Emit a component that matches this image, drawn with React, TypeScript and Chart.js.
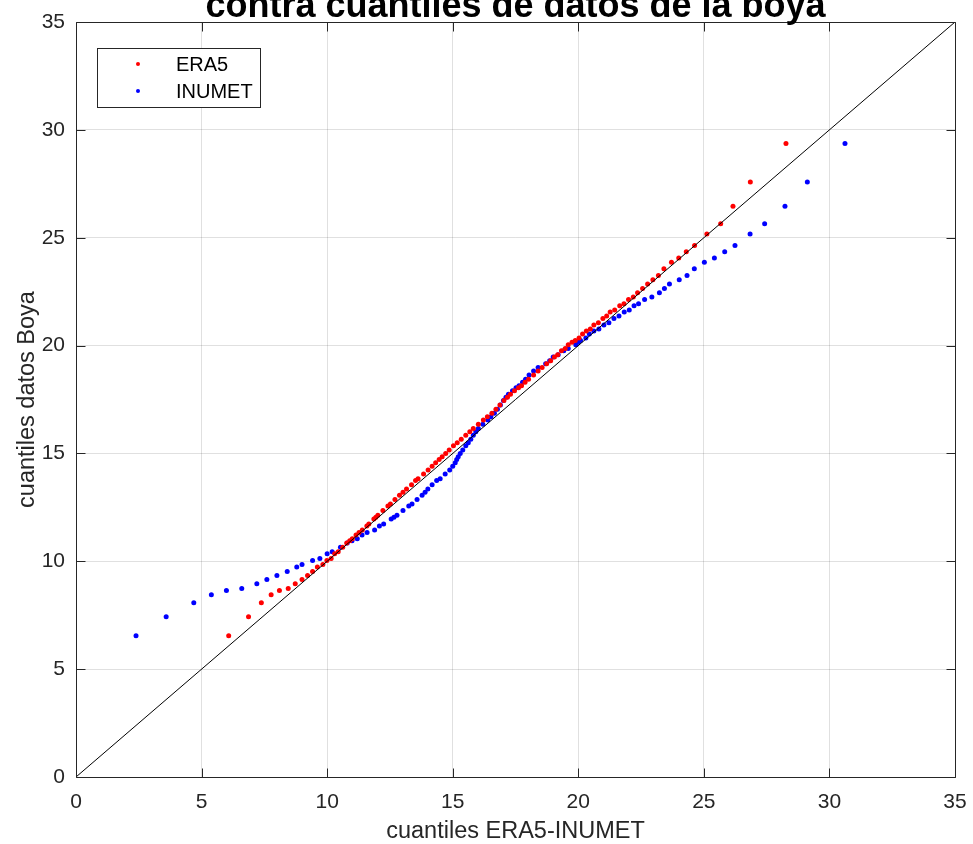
import React, { useEffect, useRef } from "react";
import { Chart, registerables } from "chart.js";

Chart.register(...registerables);

// Buoy quantiles (shared y values)
const boyaQuantiles: number[] = [
  6.55, 7.43, 8.08, 8.45, 8.65, 8.74, 8.96, 9.15, 9.34, 9.53, 9.73, 9.85, 10.04, 10.13, 10.35, 10.44, 10.65, 10.85, 10.95, 11.04, 11.22, 11.33, 11.45,
  11.64, 11.73, 11.96, 12.04, 12.13, 12.35, 12.56, 12.66, 12.87, 13.06, 13.2, 13.35, 13.55, 13.74, 13.83, 14.05,
  14.23, 14.4, 14.57, 14.72, 14.85, 15.0, 15.16, 15.36, 15.5, 15.66, 15.84, 16.0, 16.15, 16.35, 16.55, 16.7, 16.86, 17.05, 17.25, 17.45,
  17.6, 17.74, 17.9, 18.04, 18.14, 18.3, 18.44, 18.64, 18.82, 18.98, 19.16, 19.3,
  19.47, 19.57, 19.76, 19.86, 20.04, 20.15, 20.24, 20.35, 20.54, 20.67, 20.77, 20.95, 21.06, 21.26, 21.37, 21.56, 21.65, 21.85, 21.94,
  22.14, 22.25, 22.45, 22.65, 22.86, 23.05, 23.25, 23.56, 23.86, 24.06, 24.35, 24.64, 25.17, 25.65, 26.46, 27.58, 29.37,
];

// ERA5 quantiles (x values, red)
const era5Quantiles: number[] = [
  6.08, 6.87, 7.38, 7.77, 8.1, 8.45, 8.73, 9.0, 9.22, 9.42, 9.61, 9.83, 9.99, 10.16, 10.3, 10.44, 10.62, 10.78, 10.9, 11.0, 11.15, 11.27, 11.4,
  11.58, 11.66, 11.86, 11.94, 12.02, 12.22, 12.42, 12.52, 12.7, 12.88, 13.02, 13.16, 13.36, 13.52, 13.62, 13.84,
  14.02, 14.18, 14.32, 14.46, 14.58, 14.72, 14.86, 15.03, 15.18, 15.34, 15.52, 15.68, 15.82, 16.02, 16.22, 16.38, 16.56, 16.72, 16.88, 17.04,
  17.18, 17.3, 17.46, 17.62, 17.74, 17.88, 18.02, 18.22, 18.4, 18.56, 18.74, 18.9,
  19.05, 19.18, 19.33, 19.48, 19.6, 19.75, 19.88, 20.03, 20.17, 20.32, 20.48, 20.62, 20.8, 20.98, 21.13, 21.27, 21.45, 21.65, 21.82,
  22.0, 22.19, 22.36, 22.56, 22.76, 22.97, 23.19, 23.41, 23.71, 24.0, 24.3, 24.63, 25.12, 25.67, 26.16, 26.85, 28.27,
];

// INUMET quantiles (x values, blue)
const inumetQuantiles: number[] = [
  2.39, 3.59, 4.69, 5.39, 5.99, 6.6, 7.2, 7.6, 8.0, 8.41, 8.79, 9.0, 9.42, 9.71, 10.0, 10.2, 10.53, 10.8, 10.99, 11.2, 11.39, 11.59, 11.89,
  12.08, 12.25, 12.55, 12.66, 12.78, 13.02, 13.25, 13.38, 13.58, 13.78, 13.9, 14.01, 14.18, 14.36, 14.5, 14.7,
  14.88, 15.0, 15.1, 15.16, 15.22, 15.3, 15.4, 15.52, 15.62, 15.72, 15.82, 15.92, 16.02, 16.2, 16.4, 16.52, 16.66, 16.78, 16.9, 17.02,
  17.12, 17.22, 17.38, 17.52, 17.64, 17.78, 17.9, 18.04, 18.22, 18.4, 18.7, 18.86,
  19.0, 19.2, 19.42, 19.6, 19.9, 20.0, 20.09, 20.3, 20.44, 20.62, 20.82, 21.02, 21.22, 21.42, 21.62, 21.83, 22.03, 22.22, 22.4,
  22.64, 22.93, 23.23, 23.43, 23.63, 24.02, 24.33, 24.62, 25.02, 25.42, 25.83, 26.24, 26.84, 27.42, 28.23, 29.12, 30.62,
];

const referenceLine: number[] = [0, 35];
const tickValues: number[] = [0, 5, 10, 15, 20, 25, 30, 35];
const seriesNames: string[] = ["ERA5", "INUMET"];
const seriesColors: string[] = ["#ff0000", "#0000ff"];
const titleText = "contra cuantiles de datos de la boya";
const xLabel = "cuantiles ERA5-INUMET";
const yLabel = "cuantiles datos Boya";

const FONT = "'Liberation Sans', Arial, Helvetica, sans-serif";
const TEXT = "#262626";

const decorPlugin = {
  id: "decor",
  afterDraw(chart: any) {
    const ctx = chart.ctx;
    const a = chart.chartArea;
    const xs = chart.scales.x;
    const ys = chart.scales.y;
    ctx.save();
    // frame
    ctx.strokeStyle = TEXT;
    ctx.lineWidth = 1;
    const l = Math.round(a.left) + 0.5;
    const r = Math.round(a.right) + 0.5;
    const t = Math.round(a.top) + 0.5;
    const b = Math.round(a.bottom) + 0.5;
    ctx.beginPath();
    ctx.rect(l, t, r - l, b - t);
    ctx.stroke();
    // inward ticks
    const tl = 9;
    ctx.beginPath();
    tickValues.forEach((v) => {
      const px = Math.round(xs.getPixelForValue(v)) + 0.5;
      ctx.moveTo(px, b);
      ctx.lineTo(px, b - tl);
      ctx.moveTo(px, t);
      ctx.lineTo(px, t + tl);
      const py = Math.round(ys.getPixelForValue(v)) + 0.5;
      ctx.moveTo(l, py);
      ctx.lineTo(l + tl, py);
      ctx.moveTo(r, py);
      ctx.lineTo(r - tl, py);
    });
    ctx.stroke();
    // title (partially cropped at top)
    ctx.fillStyle = "#000";
    ctx.font = `bold 36px ${FONT}`;
    ctx.textAlign = "center";
    ctx.textBaseline = "alphabetic";
    ctx.fillText(titleText, (a.left + a.right) / 2, 17);
    // legend
    const lx = 97.5, ly = 48.5, lw = 163, lh = 59;
    ctx.fillStyle = "#fff";
    ctx.fillRect(lx, ly, lw, lh);
    ctx.strokeStyle = TEXT;
    ctx.strokeRect(lx, ly, lw, lh);
    ctx.font = `20px ${FONT}`;
    ctx.textAlign = "left";
    ctx.textBaseline = "middle";
    const rows = [64, 91];
    seriesNames.forEach((name, i) => {
      ctx.fillStyle = seriesColors[i];
      ctx.beginPath();
      ctx.arc(138, rows[i], 2, 0, Math.PI * 2);
      ctx.fill();
      ctx.fillStyle = "#000";
      ctx.fillText(name, 176, rows[i] + 1);
    });
    ctx.restore();
  },
};

export default function App() {
  const ref = useRef<HTMLCanvasElement | null>(null);
  useEffect(() => {
    if (!ref.current) return;
    const toPts = (xv: number[]) => xv.map((x, i) => ({ x, y: boyaQuantiles[i] }));
    const chart = new Chart(ref.current, {
      type: "scatter",
      data: {
        datasets: [
          {
            label: "ref",
            type: "line",
            data: referenceLine.map((v) => ({ x: v, y: v })),
            borderColor: "#000",
            borderWidth: 1,
            pointRadius: 0,
            order: 0,
          } as any,
          {
            label: seriesNames[0],
            data: toPts(era5Quantiles),
            backgroundColor: seriesColors[0],
            borderWidth: 0,
            pointRadius: 2.5,
            order: 1,
          },
          {
            label: seriesNames[1],
            data: toPts(inumetQuantiles),
            backgroundColor: seriesColors[1],
            borderWidth: 0,
            pointRadius: 2.5,
            order: 2,
          },
        ],
      },
      options: {
        responsive: false,
        animation: false,
        devicePixelRatio: 1,
        layout: { padding: { left: 0, top: 22, right: 18, bottom: 0 } },
        plugins: { legend: { display: false }, tooltip: { enabled: false }, title: { display: false } },
        scales: {
          x: {
            type: "linear",
            min: 0,
            max: 35,
            afterFit: (s: any) => { s.height = 67; s.paddingLeft = 0; s.paddingRight = 0; },
            afterBuildTicks: (s: any) => { s.ticks = tickValues.map((v) => ({ value: v })); },
            ticks: { color: TEXT, font: { size: 21, family: FONT }, padding: 13 },
            grid: { color: "rgba(0,0,0,0.12)", drawTicks: false, lineWidth: 1 },
            border: { display: false },
            title: { display: true, text: xLabel, color: TEXT, font: { size: 23.5, family: FONT }, padding: { top: 0, bottom: -2 } },
          },
          y: {
            type: "linear",
            min: 0,
            max: 35,
            afterFit: (s: any) => { s.width = 76; s.paddingTop = 0; s.paddingBottom = 0; },
            afterBuildTicks: (s: any) => { s.ticks = tickValues.map((v) => ({ value: v })); },
            ticks: { color: TEXT, font: { size: 21, family: FONT }, padding: 11 },
            grid: { color: "rgba(0,0,0,0.12)", drawTicks: false, lineWidth: 1 },
            border: { display: false },
            title: { display: true, text: yLabel, color: TEXT, font: { size: 23.5, family: FONT }, padding: { top: 13, bottom: 13 } },
          },
        },
      },
      plugins: [decorPlugin],
    });
    return () => chart.destroy();
  }, []);
  return (
    <div style={{ position: "fixed", left: 0, top: 0, width: 973, height: 844, background: "#fff" }}>
      <canvas ref={ref} width={973} height={844} style={{ display: "block" }} />
    </div>
  );
}
